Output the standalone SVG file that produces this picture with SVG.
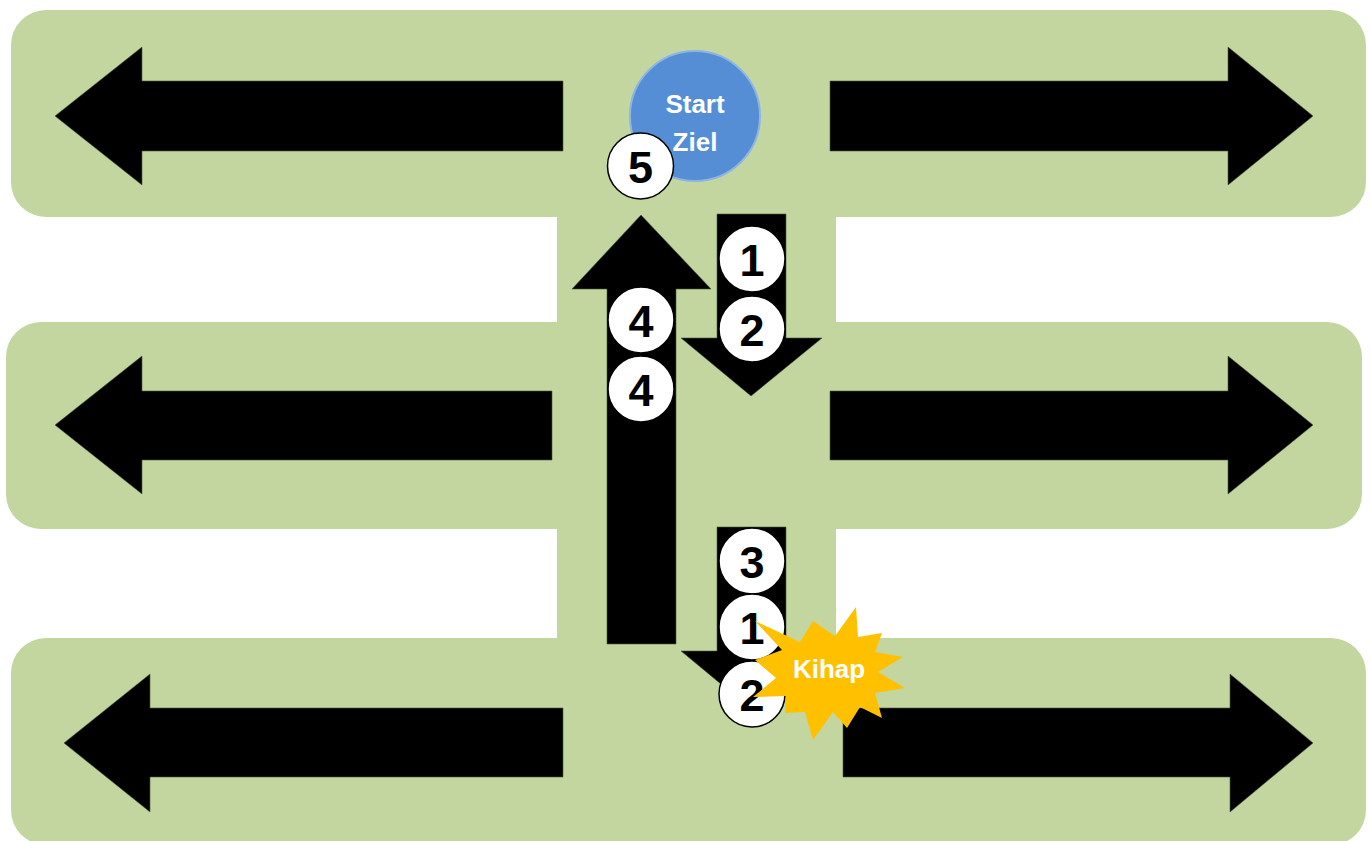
<svg xmlns="http://www.w3.org/2000/svg" width="1371" height="841" viewBox="0 0 1371 841">
<style>
.band{fill:#C4D6A0}
.arr{fill:#000;stroke:#4a5a3a;stroke-width:0.6}
.num circle{fill:#fff;stroke:#000;stroke-width:1.5}
.num text{font-family:"Liberation Sans",Arial,sans-serif;font-weight:bold;font-size:45px;fill:#000;text-anchor:middle}
.lbl{font-family:"Liberation Sans",Arial,sans-serif;font-weight:bold;font-size:26px;fill:#fff;text-anchor:middle}
</style>
<rect width="1371" height="841" fill="#fff"/>
<g id="field">
<rect class="band" x="11" y="10" width="1355" height="207" rx="35"/>
<rect class="band" x="6" y="322" width="1356" height="207" rx="35"/>
<rect class="band" x="11" y="638" width="1355" height="207" rx="35"/>
<rect class="band" x="557" y="200" width="279" height="460"/>
</g>
<g id="connectors">
<polygon class="arr" points="55,116 142,47 142,81 563,81 563,151 142,151 142,185"/>
<polygon class="arr" points="1313,116 1228,47 1228,81 830,81 830,151 1228,151 1228,185"/>
<polygon class="arr" points="55,425 142,356 142,391 552,391 552,460 142,460 142,494"/>
<polygon class="arr" points="1313,425 1228,356 1228,391 830,391 830,460 1228,460 1228,494"/>
<polygon class="arr" points="64,743 150,674 150,708 563,708 563,777 150,777 150,812"/>
<polygon class="arr" points="1313,743 1230,674 1230,708 843,708 843,777 1230,777 1230,812"/>
<polygon class="arr" points="641,215 711,289 676,289 676,644 607,644 607,289 572,289"/>
<polygon class="arr" points="717,214 786,214 786,338 822,338 751,396 681,338 717,338"/>
<polygon class="arr" points="717,527 786,527 786,651 822,651 751,709 681,651 717,651"/>
</g>
<g id="start-ziel">
<circle cx="695" cy="116" r="65" fill="#558ED5" stroke="#8EB4E3" stroke-width="2"/>
<text class="lbl" x="695" y="113">Start</text>
<text class="lbl" x="695" y="151">Ziel</text>
</g>
<g id="step5" class="num"><circle cx="640.5" cy="166" r="33"/><text x="640.5" y="183">5</text></g>
<g id="step4a" class="num"><circle cx="641" cy="320" r="33"/><text x="641" y="337">4</text></g>
<g id="step4b" class="num"><circle cx="641" cy="389" r="33"/><text x="641" y="406">4</text></g>
<g id="step1a" class="num"><circle cx="752" cy="259" r="33"/><text x="752" y="276">1</text></g>
<g id="step2a" class="num"><circle cx="752" cy="329" r="33"/><text x="752" y="346">2</text></g>
<g id="step3" class="num"><circle cx="752" cy="561" r="33"/><text x="752" y="578">3</text></g>
<g id="step1b" class="num"><circle cx="752" cy="627" r="33"/><text x="752" y="644">1</text></g>
<g id="step2b" class="num"><circle cx="752" cy="694" r="33"/><text x="752" y="711">2</text></g>
<g id="kihap">
<polygon fill="#FFC000" points="755,621 800,642 813,621 835,636 856,607 858,637 882,633 875,652 903,657 878,672 905,688 875,693 882,718 860,707 847,728 833,712 813,740 805,712 785,713 786,696 753,697 776,678 755,660 782,650"/>
<text class="lbl" x="829" y="678">Kihap</text>
</g>
</svg>
